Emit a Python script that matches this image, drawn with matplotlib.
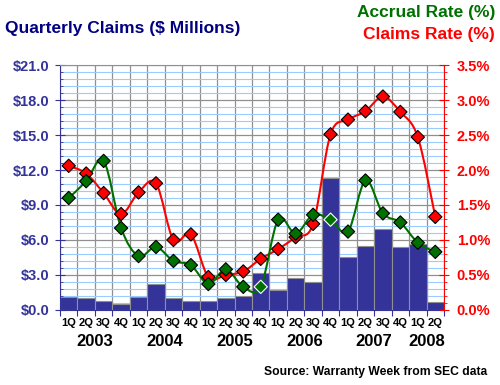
import numpy as np
import matplotlib
matplotlib.use('Agg')
import matplotlib.pyplot as plt
from matplotlib.path import Path
from matplotlib.patches import PathPatch

plt.rcParams['font.family'] = ['Liberation Sans', 'DejaVu Sans']
plt.rcParams['font.weight'] = 'bold'

# dados
trimestres = ['1Q', '2Q', '3Q', '4Q'] * 5 + ['1Q', '2Q']
anos = ['2003', '2004', '2005', '2006', '2007', '2008']
sinistros = [1.1, 1.0, 0.74, 0.49, 1.1, 2.2, 1.0, 0.74, 0.74, 1.0, 1.17, 3.14,
             1.71, 2.71, 2.37, 11.34, 4.51, 5.46, 6.91, 5.37, 5.63, 0.66]
taxa_provisao = [1.60, 1.84, 2.13, 1.17, 0.77, 0.90, 0.70, 0.64, 0.37, 0.58, 0.33, 0.33,
                 1.29, 1.09, 1.36, 1.29, 1.12, 1.85, 1.38, 1.25, 0.96, 0.83]
taxa_sinistro = [2.06, 1.95, 1.67, 1.37, 1.68, 1.81, 1.00, 1.08, 0.47, 0.50, 0.55, 0.73,
                 0.87, 1.04, 1.23, 2.51, 2.72, 2.84, 3.05, 2.83, 2.47, 1.33]

AZUL = '#000080'
EIXO = '#333399'
BARRA = '#333399'
VERDE = '#007000'
VERM = '#ff0000'

def curva_suave(x, y):
    # bezier estilo Excel
    p = np.column_stack([x, y]).astype(float)
    n = len(p)
    verts, codes = [p[0]], [Path.MOVETO]
    for i in range(n - 1):
        p0 = p[i - 1] if i > 0 else p[i]
        p3 = p[i + 2] if i + 2 < n else p[i + 1]
        c1 = p[i] + (p[i + 1] - p0) / 6
        c2 = p[i + 1] - (p3 - p[i]) / 6
        verts += [c1, c2, p[i + 1]]
        codes += [Path.CURVE4] * 3
    return Path(verts, codes)

fig = plt.figure(figsize=(5, 3.85), dpi=100)
ax = fig.add_axes([0.12, 0.195, 0.768, 0.636])
x = np.arange(len(sinistros))

ax.set_axisbelow(True)
ax.bar(x, sinistros, width=1.0, color=BARRA, edgecolor='#909090', linewidth=0.8, zorder=2)
ax.set_xlim(-0.5, len(x) - 0.5)
ax.set_ylim(0, 21)
ax.set_yticks(np.arange(0, 21.1, 3))
ax.set_yticks(np.arange(0, 21.1, 0.6), minor=True)
ax.set_yticklabels(['$%.1f' % v for v in np.arange(0, 21.1, 3)], color=EIXO, fontsize=10.5)
ax.grid(True, which='minor', axis='y', color='#99ccff', linewidth=0.8)
ax.grid(True, which='major', axis='y', color='#909090', linewidth=0.9)
ax.set_xticks(np.arange(-0.5, len(x), 1))
ax.set_xticklabels([])
ax.set_xticks(x, minor=True)
ax.set_xticklabels(trimestres, minor=True, fontsize=8)
ax.grid(True, which='major', axis='x', color='#909090', linewidth=0.9)
ax.tick_params(axis='x', which='major', length=4, color=EIXO)
ax.tick_params(axis='x', which='minor', length=0, pad=6)
ax.tick_params(axis='y', which='major', length=6.5, direction='inout', color=EIXO, pad=4)
ax.tick_params(axis='y', which='minor', length=2.5, direction='in', color=EIXO)
for s in ['left', 'bottom']:
    ax.spines[s].set_color(EIXO)
ax.spines['top'].set_color('#909090')
ax.spines['right'].set_visible(False)

ax2 = ax.twinx()
ax2.set_position(ax.get_position())
ax2.set_ylim(0, 3.5)
ax2.set_yticks(np.arange(0, 3.51, 0.5))
ax2.set_yticks(np.arange(0, 3.51, 0.1), minor=True)
ax2.set_yticklabels(['%.1f%%' % v for v in np.arange(0, 3.51, 0.5)], color=VERM, fontsize=10.5)
ax2.tick_params(axis='y', which='major', length=6.5, direction='inout', color=VERM, pad=6)
ax2.tick_params(axis='y', which='minor', length=2.5, direction='out', color=VERM)
ax2.spines['right'].set_color(VERM)
for s in ['left', 'top', 'bottom']:
    ax2.spines[s].set_visible(False)

for serie, cor in [(taxa_sinistro, VERM), (taxa_provisao, VERDE)]:
    ax2.add_patch(PathPatch(curva_suave(x, serie), facecolor='none', edgecolor=cor, lw=1.5, zorder=3))
    bordas = ['white' if v / 3.5 * 21 < b else 'black' for v, b in zip(serie, sinistros)]
    ax2.scatter(x, serie, marker='D', s=46, color=cor, edgecolors=bordas, linewidths=0.8, zorder=4)

# anos abaixo dos trimestres
for i, ano in enumerate(anos):
    ini = 4 * i
    fim = min(ini + 3, len(x) - 1)
    ax.text((ini + fim) / 2, -0.1, ano, transform=ax.get_xaxis_transform(),
            ha='center', va='top', fontsize=12, color='black')

fig.text(0.01, 0.925, 'Quarterly Claims ($ Millions)', color=AZUL, fontsize=12.5, va='center')
fig.text(0.99, 0.968, 'Accrual Rate (%)', color=VERDE, fontsize=12.5, ha='right', va='center')
fig.text(0.99, 0.91, 'Claims Rate (%)', color=VERM, fontsize=12.5, ha='right', va='center')
fig.text(0.974, 0.035, 'Source: Warranty Week from SEC data', color='black', fontsize=8.7, ha='right', va='center')

fig.savefig('out.png', dpi=100)
